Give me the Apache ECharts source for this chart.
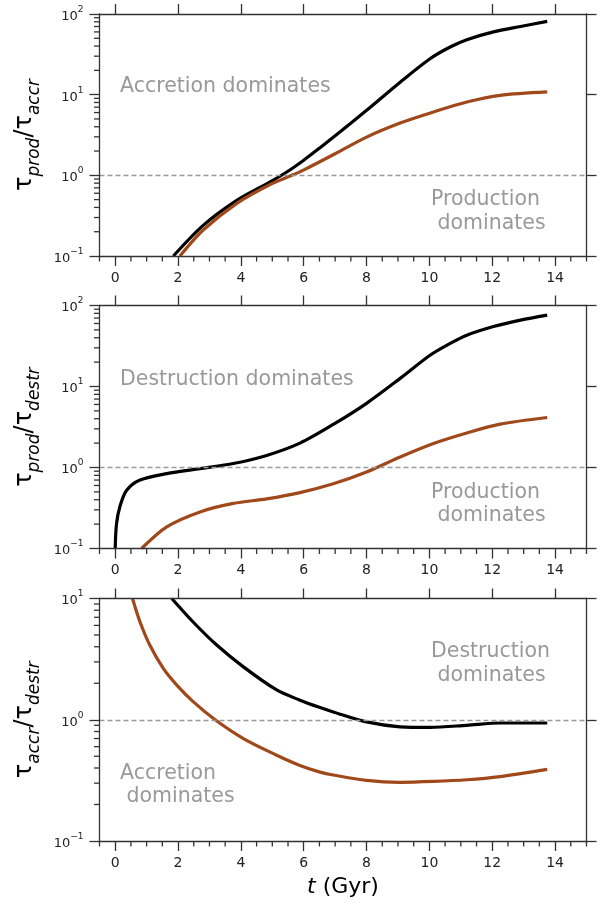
<!DOCTYPE html>
<html><head><meta charset="utf-8">
<script src="https://cdn.jsdelivr.net/npm/echarts@6/dist/echarts.min.js"></script>
<style>html,body{margin:0;padding:0;background:#fff}#c{width:609px;height:905px}</style>
</head><body><div id="c"></div>
<script>
// ---------- tick labels ----------
const xTicks = [0, 2, 4, 6, 8, 10, 12, 14];
const xMinorTicks = [-0.5, 0.5, 1, 1.5, 2.5, 3, 3.5, 4.5, 5, 5.5, 6.5, 7, 7.5, 8.5, 9, 9.5, 10.5, 11, 11.5, 12.5, 13, 13.5, 14.5, 15];
const yMinorTicks3dec = [0.2,0.3,0.4,0.5,0.6,0.7,0.8,0.9, 2,3,4,5,6,7,8,9, 20,30,40,50,60,70,80,90];
const yMinorTicks2dec = [0.2,0.3,0.4,0.5,0.6,0.7,0.8,0.9, 2,3,4,5,6,7,8,9];
const yNames = [['prod','accr'], ['prod','destr'], ['accr','destr']];
const xName = 'Gyr';

// ---------- panel 1 : tau_prod / tau_accr ----------
const p1BlackT = [1.85, 2.8, 3.87, 4.93, 5.46, 5.99, 6.52, 7.05, 8.0, 9.07, 10.02, 10.66, 11.19, 12.04, 12.9, 13.75];
const p1BlackV = [0.1, 0.24, 0.49, 0.83, 1.1, 1.53, 2.2, 3.2, 6.4, 14.3, 27.9, 39, 48, 60, 70, 81];
const p1OrangeT = [2.06, 2.8, 3.87, 4.93, 5.62, 5.99, 7.0, 8.0, 9.07, 10.13, 11.19, 12.25, 13.75];
const p1OrangeV = [0.1, 0.21, 0.45, 0.77, 1.0, 1.16, 1.85, 2.98, 4.45, 6.1, 8.1, 9.8, 10.8];

// ---------- panel 2 : tau_prod / tau_destr ----------
const p2BlackT = [0.0, 0.04, 0.15, 0.36, 0.79, 1.64, 2.7, 3.76, 4.82, 5.88, 6.94, 8.0, 9.07, 10.02, 10.66, 11.19, 12.04, 12.9, 13.75];
const p2BlackV = [0.1, 0.2, 0.33, 0.52, 0.70, 0.84, 0.97, 1.12, 1.41, 2.0, 3.4, 6.2, 12.6, 24.3, 34, 43, 55, 66, 76];
const p2OrangeT = [0.84, 1.64, 2.7, 3.76, 4.82, 5.88, 6.94, 8.0, 9.07, 10.13, 11.19, 12.25, 13.75];
const p2OrangeV = [0.1, 0.185, 0.283, 0.36, 0.41, 0.49, 0.63, 0.88, 1.35, 1.98, 2.67, 3.43, 4.14];

// ---------- panel 3 : tau_accr / tau_destr ----------
const p3BlackT = [1.8, 2.48, 3.23, 4.08, 5.14, 5.88, 6.52, 6.94, 8.0, 9.07, 10.02, 11.19, 12.25, 13.75];
const p3BlackV = [10, 6.4, 4.13, 2.73, 1.76, 1.45, 1.26, 1.16, 0.96, 0.875, 0.865, 0.90, 0.94, 0.94];
const p3OrangeT = [0.55, 0.79, 1.1, 1.53, 1.96, 2.48, 3.18, 4.08, 5.14, 5.88, 6.52, 6.94, 8.0, 9.07, 10.13, 11.19, 12.25, 13.75];
const p3OrangeV = [10, 6.4, 4.13, 2.65, 1.93, 1.41, 1.0, 0.70, 0.51, 0.42, 0.37, 0.35, 0.316, 0.305, 0.31, 0.32, 0.34, 0.39];

// ---------- annotation texts ----------
const noteTexts = ['Accretion dominates', 'Production\n dominates', 'Destruction dominates', 'Production\n dominates', 'Destruction\n dominates', 'Accretion\n dominates'];

// ================= layout / style =================
const FONT = 'DejaVu Sans';
const AX = { color: '#333', width: 1.3 };
const BLACK = '#000000', BROWN = '#a0481a';
const X_MIN = -0.5, X_MAX = 15;
const MAJOR_LEN = 10, MINOR_LEN = 5.5;
const panels = [
  { top: 14, height: 242, yMin: 0.1, yMax: 100, minor: yMinorTicks3dec, bt: p1BlackT, bv: p1BlackV, ot: p1OrangeT, ov: p1OrangeV },
  { top: 305.5, height: 243, yMin: 0.1, yMax: 100, minor: yMinorTicks3dec, bt: p2BlackT, bv: p2BlackV, ot: p2OrangeT, ov: p2OrangeV },
  { top: 598.5, height: 242.5, yMin: 0.1, yMax: 10, minor: yMinorTicks2dec, bt: p3BlackT, bv: p3BlackV, ot: p3OrangeT, ov: p3OrangeV }
];
const notePos = [
  { x: 120, y: 87 }, { x: 431, y: 211.8 },
  { x: 120, y: 379.5 }, { x: 431, y: 504 },
  { x: 431, y: 663.5 }, { x: 120, y: 785 }
];
const GL = 99.5, GW = 487;

const grids = [], xAxes = [], yAxes = [], series = [];
const zip = (a, b) => a.map((t, k) => [t, b[k]]);
const supLabel = v => {
  const e = Math.round(Math.log10(v));
  return '{b|10}{s|' + (e < 0 ? '\u2212' + (-e) : e) + '}';
};

// minor tick marks drawn through the axes' own scales (api.coord)
function minorTickSeries(xi, yi, data, dir) {
  return {
    type: 'custom', coordinateSystem: 'cartesian2d', xAxisIndex: xi, yAxisIndex: yi,
    data: data, clip: false, silent: true, z: 10, animation: false,
    renderItem: function (params, api) {
      const p = api.coord([api.value(0), api.value(1)]);
      const shape = dir === 'x'
        ? { x1: p[0], y1: p[1], x2: p[0], y2: p[1] + MINOR_LEN }
        : { x1: p[0] - MINOR_LEN, y1: p[1], x2: p[0], y2: p[1] };
      return { type: 'line', shape: shape, style: { stroke: AX.color, lineWidth: AX.width } };
    }
  };
}

panels.forEach((p, i) => {
  const g = grids.length;
  grids.push({ left: GL, width: GW, top: p.top, height: p.height, containLabel: false, outerBoundsMode: 'none' });

  const xMain = xAxes.length;
  const xm = {
    gridIndex: g, type: 'value', position: 'bottom', min: X_MIN, max: X_MAX, z: 5,
    axisLine: { show: true, onZero: false, lineStyle: AX },
    axisTick: { show: true, customValues: xTicks, length: MAJOR_LEN, inside: false, lineStyle: AX },
    axisLabel: { show: true, customValues: xTicks, fontSize: 14, color: '#222', fontFamily: FONT, margin: 15 },
    splitLine: { show: false }, minorTick: { show: false }
  };
  if (i === 2) {
    Object.assign(xm, {
      name: '{i|t}{n| (' + xName + ')}', nameLocation: 'middle', nameGap: 35,
      nameTextStyle: { rich: {
        i: { fontSize: 22, fontStyle: 'italic', fontFamily: FONT, color: '#000' },
        n: { fontSize: 22, fontFamily: FONT, color: '#000' } } }
    });
  }
  xAxes.push(xm);
  xAxes.push({
    gridIndex: g, type: 'value', position: 'top', min: X_MIN, max: X_MAX, z: 5,
    axisLine: { show: true, onZero: false, lineStyle: AX },
    axisTick: { show: true, customValues: xTicks, length: MAJOR_LEN, inside: false, lineStyle: AX },
    axisLabel: { show: false }, splitLine: { show: false }
  });

  const yMain = yAxes.length;
  yAxes.push({
    gridIndex: g, type: 'log', logBase: 10, position: 'left', min: p.yMin, max: p.yMax, z: 5,
    axisLine: { show: true, onZero: false, lineStyle: AX },
    axisTick: { show: true, length: MAJOR_LEN, inside: false, lineStyle: AX },
    axisLabel: {
      show: true, formatter: supLabel, margin: 16,
      rich: {
        b: { fontSize: 13, fontFamily: FONT, color: '#222', lineHeight: 18, verticalAlign: 'bottom' },
        s: { fontSize: 9, fontFamily: FONT, color: '#222', lineHeight: 11, verticalAlign: 'top' }
      }
    },
    splitLine: { show: false }, minorTick: { show: false },
    name: '{t|\u03c4}{s|' + yNames[i][0] + '}{t|/\u03c4}{s|' + yNames[i][1] + '}',
    nameLocation: 'middle', nameRotate: 90, nameGap: 48,
    nameTextStyle: { rich: {
      t: { fontSize: 24, fontFamily: FONT, color: '#000', lineHeight: 30, verticalAlign: 'bottom', padding: [0, 0, 6, 0] },
      s: { fontSize: 17, fontStyle: 'italic', fontFamily: FONT, color: '#000', lineHeight: 20, verticalAlign: 'bottom' } } }
  });
  yAxes.push({
    gridIndex: g, type: 'log', logBase: 10, position: 'right', min: p.yMin, max: p.yMax, z: 5,
    axisLine: { show: true, onZero: false, lineStyle: AX },
    axisTick: { show: true, length: MAJOR_LEN, inside: false, lineStyle: AX },
    axisLabel: { show: false }, splitLine: { show: false }, minorTick: { show: false }
  });

  series.push({
    type: 'line', xAxisIndex: xMain, yAxisIndex: yMain, data: zip(p.bt, p.bv),
    showSymbol: false, smooth: 0.3, z: 3,
    lineStyle: { color: BLACK, width: 3.2 },
    markLine: {
      silent: true, symbol: ['none', 'none'], label: { show: false }, animation: false,
      lineStyle: { color: '#9a9a9a', type: [5, 3], width: 1.3 },
      data: [{ yAxis: 1 }]
    }
  });
  series.push({
    type: 'line', xAxisIndex: xMain, yAxisIndex: yMain, data: zip(p.ot, p.ov),
    showSymbol: false, smooth: 0.3, z: 4,
    lineStyle: { color: BROWN, width: 3.2 }
  });
  series.push(minorTickSeries(xMain, yMain, xMinorTicks.map(v => [v, p.yMin]), 'x'));
  series.push(minorTickSeries(xMain, yMain, p.minor.map(v => [X_MIN, v]), 'y'));
});

const graphic = noteTexts.map((t, k) => ({
  type: 'text', x: notePos[k].x, y: notePos[k].y, silent: true,
  style: { text: t, fill: '#999', fontSize: 20.5, fontFamily: FONT, align: 'left', verticalAlign: 'middle', lineHeight: 23.5 }
}));

const chart = echarts.init(document.getElementById('c'), null, { renderer: 'canvas' });
chart.setOption({
  animation: false, backgroundColor: '#fff',
  grid: grids, xAxis: xAxes, yAxis: yAxes, series: series, graphic: graphic
});
</script></body></html>
